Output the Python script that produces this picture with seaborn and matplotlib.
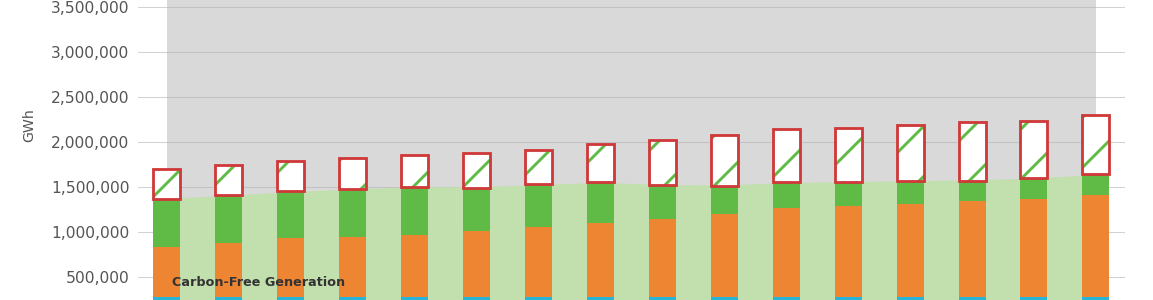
import numpy as np
import pandas as pd
import matplotlib
matplotlib.use("Agg")
import matplotlib.pyplot as plt
import seaborn as sns
from matplotlib.ticker import FuncFormatter

# ---- data (GWh) ----
years = [str(y) for y in range(2020, 2036)]
hydro_gwh = [280000, 280000, 280000, 280000, 280000, 280000, 280000, 280000,
             283000, 283000, 283000, 283000, 283000, 283000, 283000, 283000]
orange_gwh = [557000, 605000, 653000, 664000, 694000, 731000, 775000, 820000,
              861000, 924000, 983000, 1012000, 1028000, 1065000, 1090000, 1135000]
green_gwh = [533000, 529000, 522000, 533000, 532000, 477000, 481000, 455000,
             381000, 307000, 296000, 267000, 262000, 225000, 227000, 229000]
hatched_gwh = [333000, 333000, 337000, 348000, 352000, 396000, 381000, 422000,
               496000, 566000, 581000, 592000, 618000, 648000, 636000, 655000]
carbon_free_area = [1375000, 1410000, 1452000, 1480000, 1505000, 1505000, 1530000, 1553000,
                    1530000, 1525000, 1552000, 1562000, 1573000, 1580000, 1603000, 1640000]
ytick_values = [500000, 1000000, 1500000, 2000000, 2500000, 3000000, 3500000]
area_label = "Carbon-Free Generation"

CYAN = "#27b4d8"
ORANGE = "#ee8533"
GREEN = "#5fbb46"
LIGHT_GREEN = "#c2dfae"
GRAY = "#d9d9d9"
RED = "#d0393a"

df = pd.DataFrame({"year": years, "hydro": hydro_gwh, "orange": orange_gwh,
                   "green": green_gwh, "hatched": hatched_gwh,
                   "carbon_free": carbon_free_area})
df["orange_top"] = df["hydro"] + df["orange"]
df["green_top"] = df["orange_top"] + df["green"]

sns.set_theme(style="white")
plt.rcParams["font.family"] = ["DejaVu Sans"]
plt.rcParams["hatch.linewidth"] = 1.4

DPI = 150
fig = plt.figure(figsize=(1153 / DPI, 300 / DPI), dpi=DPI)
ax = fig.add_axes([138 / 1153, 0, (1125 - 138) / 1153, 1])

YMIN, YMAX = 248000, 3578000
x = np.arange(len(years))

# background areas
ax.fill_between(x, 0, YMAX, color=GRAY, lw=0, zorder=0.1)
ax.fill_between(x, 0, df["carbon_free"], color=LIGHT_GREEN, lw=0, zorder=1)

W = 0.436
common = dict(x="year", width=W, saturation=1, errorbar=None, ax=ax)
sns.barplot(data=df, y="green_top", color=GREEN, linewidth=0, zorder=2, **common)
sns.barplot(data=df, y="orange_top", color=ORANGE, linewidth=0, zorder=3, **common)
sns.barplot(data=df, y="hydro", color=CYAN, linewidth=0, zorder=4, **common)
# hatched segment: white fill, green hatch, red outline
sns.barplot(data=df, y="hatched", bottom=df["green_top"].values, color="white",
            facecolor="white", edgecolor=GREEN, linewidth=0, hatch="/", zorder=5, **common)
sns.barplot(data=df, y="hatched", bottom=df["green_top"].values, color=RED,
            facecolor="none", edgecolor=RED, linewidth=1.35, zorder=6, **common)

ax.set_xlim(-0.465, len(years) - 1 + 0.47)
ax.set_ylim(YMIN, YMAX)
ax.set_yticks(ytick_values)
ax.yaxis.set_major_formatter(FuncFormatter(lambda v, p: f"{v:,.0f}"))
ax.set_xticks([])
ax.set_xlabel("")
ax.grid(axis="y", color="#b4b4b4", alpha=0.6, linewidth=0.5)
ax.set_axisbelow(True)
for gl in ax.get_ygridlines():
    gl.set_zorder(0.5)
for s in ax.spines.values():
    s.set_visible(False)
ax.tick_params(axis="y", length=0, pad=4.1, labelsize=7.45, labelcolor="#555555")
ax.set_ylabel("GWh", fontsize=6.8, color="#555555")
ax.yaxis.set_label_coords(-0.1033, 0.583)

ax.text(0.085, 437000, area_label, fontsize=6.1, fontweight="bold",
        color="#333333", va="center", ha="left", zorder=7)

fig.savefig("out.png", dpi=DPI)
